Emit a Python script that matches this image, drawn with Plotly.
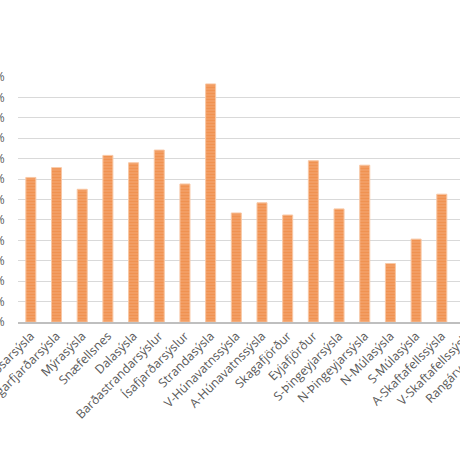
import plotly.graph_objects as go

# sýslur, in the order of the original chart
sýslur = [
    "Kjósarsýsla",
    "Borgarfjarðarsýsla",
    "Mýrasýsla",
    "Snæfellsnes",
    "Dalasýsla",
    "Barðastrandarsýslur",
    "Ísafjarðarsýslur",
    "Strandasýsla",
    "V-Húnavatnssýsla",
    "A-Húnavatnssýsla",
    "Skagafjörður",
    "Eyjafjörður",
    "S-Þingeyjarsýsla",
    "N-Þingeyjarsýsla",
    "N-Múlasýsla",
    "S-Múlasýsla",
    "A-Skaftafellssýsla",
    "V-Skaftafellssýsla",
    "Rangárvallasýsla",
]
hlutfall = [
    0.354, 0.378, 0.325, 0.408, 0.390, 0.421, 0.338, 0.583, 0.267, 0.292,
    0.262, 0.395, 0.277, 0.384, 0.143, 0.203, 0.313, 0.300, 0.310,
]
y_ticks = [i * 0.05 for i in range(13)]

fig = go.Figure(
    go.Bar(
        x=sýslur,
        y=hlutfall,
        width=0.39,
        marker=dict(
            color="#F4AA76",
            line=dict(color="#F8C7A4", width=1),
            pattern=dict(shape="-", fgcolor="#EB7A2C", size=3, solidity=0.7),
        ),
        showlegend=False,
    )
)

fig.update_layout(
    width=520,
    height=460,
    margin=dict(l=18, r=14, t=77, b=138),
    paper_bgcolor="white",
    plot_bgcolor="white",
    font=dict(family="Open Sans", size=12, color="#595959"),
)
fig.update_xaxes(
    automargin=False,
    tickangle=-45,
    showline=True,
    linecolor="#BFBFBF",
    linewidth=2,
    showgrid=False,
    ticks="",
    tickfont=dict(size=12.3, color="#595959"),
)
fig.update_yaxes(
    automargin=False,
    range=[0, 0.6],
    tickvals=y_ticks,
    tickformat=".0%",
    showgrid=True,
    gridcolor="#D9D9D9",
    gridwidth=1,
    zeroline=False,
    ticks="outside",
    ticklen=10,
    tickcolor="white",
    tickfont=dict(size=12, color="#595959"),
)

fig.write_html(
    "out.html",
    config={"displayModeBar": False},
    post_script="document.body.style.margin='0';document.body.style.overflow='hidden';",
)
